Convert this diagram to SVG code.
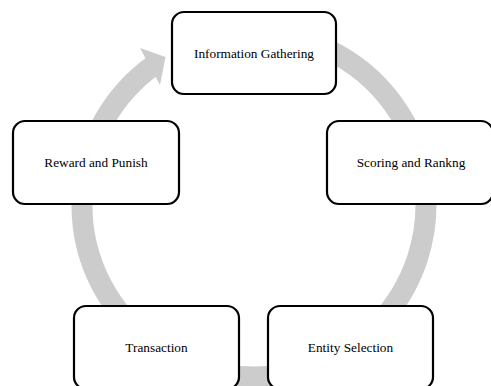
<svg xmlns="http://www.w3.org/2000/svg" width="491" height="386" viewBox="0 0 491 386">
<style>
.node rect{fill:#ffffff;stroke:#000000;stroke-width:2.2}
.node text{font-size:13.3px;fill:#000000;text-anchor:middle}
.ring{fill:none;stroke:#cccccc;stroke-width:21}
.head{fill:#cccccc}
</style>
<rect width="491" height="386" fill="#ffffff"/>
<g id="connectors">
<path class="ring" d="M 254 33 A 172 172 0 1 1 155.3 64.1"/>
<polygon class="head" points="140,48 165.5,57 160,85"/>
</g>
<g font-family="'Liberation Serif', 'Times New Roman', 'DejaVu Serif', serif">
<g id="node-information-gathering" class="node">
<rect x="172" y="12" width="164" height="82" rx="12" ry="12"/>
<text x="254" y="57.5">Information Gathering</text>
</g>
<g id="node-scoring-and-ranking" class="node">
<rect x="327" y="121" width="166" height="83" rx="12" ry="12"/>
<text x="411" y="167">Scoring and Rankng</text>
</g>
<g id="node-entity-selection" class="node">
<rect x="268" y="306" width="165" height="83" rx="12" ry="12"/>
<text x="350.5" y="351.5">Entity Selection</text>
</g>
<g id="node-transaction" class="node">
<rect x="74" y="306" width="165" height="83" rx="12" ry="12"/>
<text x="156.5" y="351.5">Transaction</text>
</g>
<g id="node-reward-and-punish" class="node">
<rect x="13" y="121" width="166" height="83" rx="12" ry="12"/>
<text x="96" y="167">Reward and Punish</text>
</g>
</g>
</svg>
